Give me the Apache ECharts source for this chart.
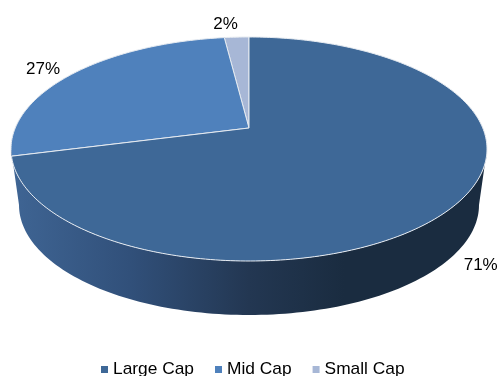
<!DOCTYPE html>
<html>
<head>
<meta charset="utf-8">
<style>html,body{margin:0;padding:0;background:#fff}#chart{width:499px;height:376px}</style>
<script src="https://cdn.jsdelivr.net/npm/echarts@6/dist/echarts.min.js"></script>
</head>
<body>
<div id="chart"></div>
<script>
// Market-cap allocation, in percent
const categories = ['Large Cap', 'Mid Cap', 'Small Cap'];
const shares = [71, 27, 2];
const sliceColors = ['#3E6897', '#4F81BC', '#A7B7D6'];

// Tilted disc: top face ellipse, wall base ellipse, and the apex where the slices meet
const topFace = { cx: 249, cy: 149, rx: 238, ry: 112 };
const baseFace = { cx: 249, cy: 205, rx: 230, ry: 110 };
const apex = { x: 249, y: 128 };

// Projective terms that send the unit circle onto the top face with its centre at the apex
const backReach = apex.y - (topFace.cy - topFace.ry);
const frontReach = topFace.cy + topFace.ry - apex.y;
const tilt = (frontReach - backReach) / (frontReach + backReach);
const depthScale = frontReach * (1 - tilt);
const widthScale = topFace.rx * Math.sqrt(1 - tilt * tilt);

// Angle in degrees, clockwise from twelve o'clock
function project(deg) {
  const a = deg * Math.PI / 180;
  const u = Math.sin(a), v = -Math.cos(a);
  const w = 1 - tilt * v;
  return [apex.x + widthScale * u / w, apex.y + depthScale * v / w];
}

function facePoint(face, t) {
  return [face.cx + face.rx * Math.cos(t), face.cy + face.ry * Math.sin(t)];
}

const total = shares.reduce((a, b) => a + b, 0);
const startShare = shares.map((_, i) => shares.slice(0, i).reduce((a, b) => a + b, 0));

// Where each percentage sits relative to the rim point at the slice's middle
const labelShift = [[23, 62], [-31, -4], [-11, -13]];

const wallFill = new echarts.graphic.LinearGradient(0, 0, 1, 0, [
  { offset: 0, color: '#3F6594' },
  { offset: 0.25, color: '#31507A' },
  { offset: 0.5, color: '#233752' },
  { offset: 0.7, color: '#1A2C40' },
  { offset: 1, color: '#1A2C40' }
]);

function renderSlice(index) {
  return function (params, api) {
    const value = api.value(0);
    const from = startShare[index] / total * 360;
    const to = from + value / total * 360;
    const children = [];

    // The slice that holds the front of the disc carries the visible wall
    if (from <= 180 && to >= 180) {
      const pts = [];
      for (let i = 0; i <= 120; i++) pts.push(facePoint(topFace, Math.PI * i / 120));
      for (let i = 120; i >= 0; i--) pts.push(facePoint(baseFace, Math.PI * i / 120));
      children.push({ type: 'polygon', shape: { points: pts }, style: { fill: wallFill, stroke: null } });
    }

    const outline = [[apex.x, apex.y]];
    const steps = Math.max(4, Math.ceil(to - from));
    for (let i = 0; i <= steps; i++) outline.push(project(from + (to - from) * i / steps));
    children.push({
      type: 'polygon',
      z2: 2,
      shape: { points: outline },
      style: { fill: sliceColors[index], stroke: '#E6EBF1', lineWidth: 1, lineJoin: 'round' }
    });

    const rim = project((from + to) / 2);
    children.push({
      type: 'text',
      z2: 3,
      x: rim[0] + labelShift[index][0],
      y: rim[1] + labelShift[index][1],
      style: {
        text: Math.round(value) + '%',
        fill: '#000',
        font: '17px "Liberation Sans", Arial, sans-serif',
        align: 'center',
        verticalAlign: 'middle'
      }
    });
    return { type: 'group', children };
  };
}

const chart = echarts.init(document.getElementById('chart'), null, { renderer: 'canvas' });
chart.setOption({
  animation: false,
  backgroundColor: '#fff',
  legend: {
    data: categories,
    left: 101,
    top: 361,
    icon: 'rect',
    itemWidth: 7,
    itemHeight: 7,
    itemGap: 21,
    padding: 0,
    textStyle: { color: '#000', fontFamily: '"Liberation Sans", Arial, sans-serif', fontSize: 17.35 }
  },
  series: categories.map((name, i) => ({
    type: 'custom',
    name,
    coordinateSystem: 'none',
    z: categories.length - i,
    itemStyle: { color: sliceColors[i] },
    data: [[shares[i]]],
    renderItem: renderSlice(i)
  }))
});
</script>
</body>
</html>
